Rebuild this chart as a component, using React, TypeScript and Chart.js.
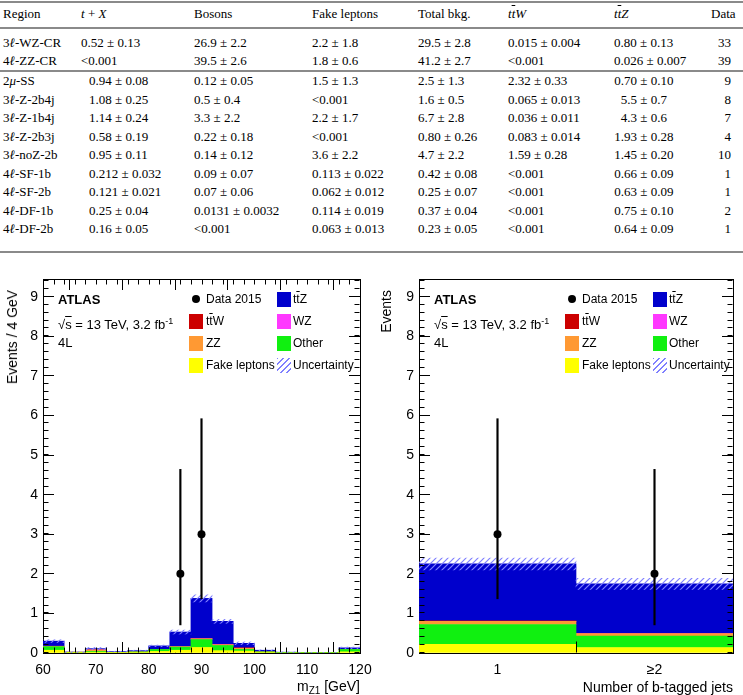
import React, { useEffect, useRef } from 'react';
import { Chart, registerables } from 'chart.js';

Chart.register(...registerables);

// ---------------- Table data ----------------
const tableHeaders = ['Region', 't + X', 'Bosons', 'Fake leptons', 'Total bkg.', 'ttW', 'ttZ', 'Data'];
const tableRegions = ['3ℓ-WZ-CR', '4ℓ-ZZ-CR', '2μ-SS', '3ℓ-Z-2b4j', '3ℓ-Z-1b4j', '3ℓ-Z-2b3j', '3ℓ-noZ-2b', '4ℓ-SF-1b', '4ℓ-SF-2b', '4ℓ-DF-1b', '4ℓ-DF-2b'];
const tableTX = ['0.52 ± 0.13', '<0.001', '0.94 ± 0.08', '1.08 ± 0.25', '1.14 ± 0.24', '0.58 ± 0.19', '0.95 ± 0.11', '0.212 ± 0.032', '0.121 ± 0.021', '0.25 ± 0.04', '0.16 ± 0.05'];
const tableBosons = ['26.9 ± 2.2', '39.5 ± 2.6', '0.12 ± 0.05', '0.5 ± 0.4', '3.3 ± 2.2', '0.22 ± 0.18', '0.14 ± 0.12', '0.09 ± 0.07', '0.07 ± 0.06', '0.0131 ± 0.0032', '<0.001'];
const tableFake = ['2.2 ± 1.8', '1.8 ± 0.6', '1.5 ± 1.3', '<0.001', '2.2 ± 1.7', '<0.001', '3.6 ± 2.2', '0.113 ± 0.022', '0.062 ± 0.012', '0.114 ± 0.019', '0.063 ± 0.013'];
const tableTotal = ['29.5 ± 2.8', '41.2 ± 2.7', '2.5 ± 1.3', '1.6 ± 0.5', '6.7 ± 2.8', '0.80 ± 0.26', '4.7 ± 2.2', '0.42 ± 0.08', '0.25 ± 0.07', '0.37 ± 0.04', '0.23 ± 0.05'];
const tableTtW = ['0.015 ± 0.004', '<0.001', '2.32 ± 0.33', '0.065 ± 0.013', '0.036 ± 0.011', '0.083 ± 0.014', '1.59 ± 0.28', '<0.001', '<0.001', '<0.001', '<0.001'];
const tableTtZ = ['0.80 ± 0.13', '0.026 ± 0.007', '0.70 ± 0.10', '5.5 ± 0.7', '4.3 ± 0.6', '1.93 ± 0.28', '1.45 ± 0.20', '0.66 ± 0.09', '0.63 ± 0.09', '0.75 ± 0.10', '0.64 ± 0.09'];
const tableData = ['33', '39', '9', '8', '7', '4', '10', '1', '1', '2', '1'];

// ---------------- m_Z1 histogram (4 GeV bins, 60-120) ----------------
const mzBinCenters = [62, 66, 70, 74, 78, 82, 86, 90, 94, 98, 102, 106, 110, 114, 118];
const mzFake = [0.07, 0.01, 0.02, 0.005, 0.01, 0.04, 0.07, 0.14, 0.06, 0.05, 0.01, 0.0, 0.0, 0.0, 0.03];
const mzOther = [0.09, 0.01, 0.02, 0.01, 0.02, 0.05, 0.08, 0.2, 0.13, 0.04, 0.02, 0.005, 0.003, 0.003, 0.06];
const mzZZ = [0.01, 0.0, 0.04, 0.0, 0.0, 0.0, 0.01, 0.02, 0.02, 0.03, 0.0, 0.0, 0.0, 0.0, 0.0];
const mzWZ = [0, 0, 0, 0, 0, 0, 0, 0, 0, 0, 0, 0, 0, 0, 0];
const mzTtW = [0, 0, 0, 0, 0, 0, 0, 0, 0, 0.01, 0, 0, 0, 0, 0];
const mzTtZ = [0.13, 0.0, 0.03, 0.02, 0.03, 0.09, 0.37, 1.02, 0.59, 0.115, 0.04, 0.015, 0.007, 0.007, 0.04];
const mzUnc = [0.035, 0.01, 0.03, 0.01, 0.01, 0.02, 0.05, 0.09, 0.05, 0.035, 0.01, 0.008, 0.005, 0.005, 0.02];
const mzDataX = [86, 90];
const mzData = [2, 3];
const mzDataLow = [0.71, 1.37];
const mzDataHigh = [4.64, 5.92];
const mzTicks = [60, 70, 80, 90, 100, 110, 120];
const mzMinorStep = 2;

// ---------------- b-tag multiplicity ----------------
const nbCenters = [1, 2];
const nbLabels = ['1', '≥2'];
const nbFake = [0.22, 0.14];
const nbOther = [0.5, 0.29];
const nbZZ = [0.08, 0.06];
const nbWZ = [0, 0];
const nbTtW = [0.01, 0.005];
const nbTtZ = [1.44, 1.25];
const nbUnc = [0.15, 0.14];
const nbDataX = [1, 2];
const nbData = [3, 2];
const nbDataLow = [1.37, 0.71];
const nbDataHigh = [5.92, 4.64];
const nbEdgeTicks = [1.5];

const yTicks = [0, 1, 2, 3, 4, 5, 6, 7, 8, 9];
const yMinorStep = 0.2;
const yMax = 9.45;

const COLORS = {
  ttZ: '#0000cc',
  ttW: '#cc0000',
  WZ: '#ff38ff',
  ZZ: '#ff9933',
  Other: '#10f010',
  Fake: '#ffff00',
  Unc: '#8080ff',
};

const SANS = '"Liberation Sans", Arial, Helvetica, sans-serif';
const SERIF = '"Liberation Serif", "Times New Roman", serif';

function makeHatch(ctx: CanvasRenderingContext2D) {
  const c = document.createElement('canvas');
  c.width = 6;
  c.height = 6;
  const g = c.getContext('2d')!;
  g.strokeStyle = COLORS.Unc;
  g.lineWidth = 1.2;
  g.beginPath();
  g.moveTo(0, 6); g.lineTo(6, 0);
  g.moveTo(-1, 1); g.lineTo(1, -1);
  g.moveTo(5, 7); g.lineTo(7, 5);
  g.stroke();
  return ctx.createPattern(c, 'repeat');
}

// Minor ticks (and bin-edge ticks at the bottom) placed with the chart's own scales,
// drawn on a transparent overlay canvas lying exactly over the chart canvas.
function drawMinorTicks(chart: any, overlay: HTMLCanvasElement, xMinorStep: number | null, bottomEdgeTicks: number[] | null) {
  const ctx = overlay.getContext('2d')!;
  ctx.clearRect(0, 0, overlay.width, overlay.height);
  const a = chart.chartArea;
  const xs = chart.scales.x;
  const ys = chart.scales.y;
  ctx.save();
  ctx.strokeStyle = '#000';
  ctx.lineWidth = 1;
  ctx.beginPath();
  const L = Math.round(a.left) + 0.5;
  const R = Math.round(a.right) - 0.5;
  const T = Math.round(a.top) + 0.5;
  const B = Math.round(a.bottom) - 0.5;
  if (xMinorStep) {
    for (let v = xs.min; v <= xs.max + 1e-9; v += xMinorStep) {
      const px = Math.round(xs.getPixelForValue(v)) + 0.5;
      ctx.moveTo(px, B);
      ctx.lineTo(px, B - 5);
      ctx.moveTo(px, T);
      ctx.lineTo(px, T + 5);
    }
  }
  if (bottomEdgeTicks) {
    bottomEdgeTicks.forEach((v) => {
      const px = Math.round(xs.getPixelForValue(v)) + 0.5;
      ctx.moveTo(px, B);
      ctx.lineTo(px, B - 11);
    });
  }
  for (let v = 0; v <= ys.max + 1e-9; v += yMinorStep) {
    const py = Math.round(ys.getPixelForValue(v)) - 0.5;
    ctx.moveTo(L, py);
    ctx.lineTo(L + 5, py);
    ctx.moveTo(R, py);
    ctx.lineTo(R - 5, py);
  }
  ctx.stroke();
  ctx.restore();
}

type HistCfg = {
  centers: number[];
  comps: number[][];
  unc: number[];
  dataX: number[];
  data: number[];
  dataLow: number[];
  dataHigh: number[];
  xMin: number;
  xMax: number;
  xTickValues: number[];
  xTickLabel: (v: number, i: number) => string;
  frameX: number[];
  frameMinor: number | null;
  labelTickMarks: boolean;
  yAxisWidth: number;
  padRight: number;
};

function buildChart(canvas: HTMLCanvasElement, cfg: HistCfg) {
  const ctx = canvas.getContext('2d')!;
  const pattern = makeHatch(ctx);
  const compColors = [COLORS.Fake, COLORS.Other, COLORS.ZZ, COLORS.WZ, COLORS.ttW, COLORS.ttZ];
  const totals = cfg.centers.map((_, i) => cfg.comps.reduce((s, c) => s + c[i], 0));
  const barBase = {
    type: 'bar',
    grouped: false,
    barPercentage: 1,
    categoryPercentage: 1,
    borderWidth: 0,
  };
  const datasets: any[] = cfg.comps.map((c, k) => ({
    ...barBase,
    stack: 'bkg',
    order: 10,
    backgroundColor: compColors[k],
    data: cfg.centers.map((x, i) => ({ x, y: c[i] })),
  }));
  datasets.push({
    ...barBase,
    stack: 'unc',
    order: 2,
    backgroundColor: pattern,
    data: cfg.centers.map((x, i) => ({ x, y: [totals[i] - cfg.unc[i], totals[i] + cfg.unc[i]] })),
  });
  datasets.push({
    ...barBase,
    stack: 'err',
    order: 1,
    barThickness: 1.5,
    backgroundColor: '#000',
    data: cfg.dataX.map((x, i) => ({ x, y: [cfg.dataLow[i], cfg.dataHigh[i]] })),
  });
  datasets.push({
    type: 'line',
    order: 0,
    showLine: false,
    pointRadius: 4,
    pointHoverRadius: 4,
    pointBackgroundColor: '#000',
    pointBorderColor: '#000',
    pointBorderWidth: 0,
    data: cfg.dataX.map((x, i) => ({ x, y: cfg.data[i] })),
  });

  const tickFont = { family: SANS, size: 14 };
  const frameBorder = { display: true, color: '#000', width: 1 };
  const inwardGrid = { display: true, drawOnChartArea: false, drawTicks: true, tickLength: -11, tickColor: '#000', tickWidth: 1 };
  const config: any = {
    type: 'bar',
    data: { datasets },
    options: {
      animation: false,
      responsive: false,
      layout: { padding: { left: 0, right: cfg.padRight, top: 17, bottom: 0 } },
      plugins: { legend: { display: false }, tooltip: { enabled: false } },
      scales: {
        x: {
          type: 'linear',
          position: 'bottom',
          min: cfg.xMin,
          max: cfg.xMax,
          offset: false,
          grid: { ...inwardGrid, tickColor: cfg.labelTickMarks ? '#000' : 'rgba(0,0,0,0)' },
          border: frameBorder,
          ticks: {
            font: tickFont,
            color: '#000',
            padding: 20,
            maxRotation: 0,
            autoSkip: false,
            callback: (v: any, i: number) => cfg.xTickLabel(v, i),
          },
          afterBuildTicks: (s: any) => {
            s.ticks = cfg.xTickValues.map((v) => ({ value: v }));
          },
          afterFit: (s: any) => {
            s.height = 42;
            s.paddingLeft = 0;
            s.paddingRight = 0;
          },
        },
        xTop: {
          type: 'linear',
          position: 'top',
          min: cfg.xMin,
          max: cfg.xMax,
          offset: false,
          grid: inwardGrid,
          border: frameBorder,
          ticks: { display: false },
          afterBuildTicks: (s: any) => {
            s.ticks = cfg.frameX.map((v) => ({ value: v }));
          },
          afterFit: (s: any) => {
            s.height = 0;
            s.paddingLeft = 0;
            s.paddingRight = 0;
          },
        },
        y: {
          type: 'linear',
          position: 'left',
          min: 0,
          max: yMax,
          stacked: true,
          grid: inwardGrid,
          border: frameBorder,
          ticks: { font: tickFont, color: '#000', padding: 16 },
          afterBuildTicks: (s: any) => {
            s.ticks = yTicks.map((v) => ({ value: v }));
          },
          afterFit: (s: any) => {
            s.width = cfg.yAxisWidth;
            s.paddingTop = 0;
            s.paddingBottom = 0;
          },
        },
        yRight: {
          type: 'linear',
          position: 'right',
          min: 0,
          max: yMax,
          grid: inwardGrid,
          border: frameBorder,
          ticks: { display: false },
          afterBuildTicks: (s: any) => {
            s.ticks = yTicks.map((v) => ({ value: v }));
          },
          afterFit: (s: any) => {
            s.width = 0;
            s.paddingTop = 0;
            s.paddingBottom = 0;
          },
        },
      },
    },
  };
  return new Chart(canvas, config);
}

// ---------------- small HTML helpers ----------------
function Txt(props: { x: number; y: number; size?: number; right?: boolean; style?: any; children: any }) {
  const size = props.size ?? 13;
  const lh = Math.round(size * 1.25);
  const pos: any = props.right ? { right: 743 - props.x } : { left: props.x };
  return (
    <div
      style={{
        position: 'absolute',
        top: props.y - lh / 2,
        fontSize: size,
        lineHeight: `${lh}px`,
        whiteSpace: 'nowrap',
        ...pos,
        ...props.style,
      }}
    >
      {props.children}
    </div>
  );
}

const Ov = (p: { children: any }) => <span style={{ textDecoration: 'overline' }}>{p.children}</span>;

function regionLabel(r: string) {
  const parts = r.split(/(ℓ|μ)/);
  return parts.map((p, i) => (p === 'ℓ' || p === 'μ' ? <i key={i}>{p}</i> : <span key={i}>{p}</span>));
}

function headerLabel(h: string) {
  if (h === 't + X') return (<span><i>t</i> + <i>X</i></span>);
  if (h === 'ttW') return (<i>t<Ov>t</Ov>W</i>);
  if (h === 'ttZ') return (<i>t<Ov>t</Ov>Z</i>);
  return h;
}

function PmCell(props: { text: string; anchor: number; y: number }) {
  const idx = props.text.indexOf(' ± ');
  if (idx < 0) return <Txt x={props.anchor - 23} y={props.y} style={{ fontFamily: SERIF }}>{props.text}</Txt>;
  const a = props.text.slice(0, idx);
  const b = props.text.slice(idx);
  return (
    <Txt x={props.anchor - 60} y={props.y} style={{ fontFamily: SERIF }}>
      <span style={{ display: 'inline-block', width: 60, textAlign: 'right' }}>{a}</span>
      <span style={{ whiteSpace: 'pre' }}>{b}</span>
    </Txt>
  );
}

function Table() {
  const headerY = 14;
  const rowY = (i: number) => (i < 2 ? 43 + i * 18 : 81 + (i - 2) * 18.5);
  const headerX = [3, 81, 194, 312, 418, 508, 614, 711];
  const colX = [194, 312, 418, 508];
  const rule = (y: number, h: number) => (
    <div style={{ position: 'absolute', left: 0, width: 743, top: y - h / 2, height: h, background: '#8a8a8a' }} />
  );
  const cells: any[] = [];
  tableRegions.forEach((r, i) => {
    const y = rowY(i);
    cells.push(<Txt key={`r${i}`} x={3} y={y} style={{ fontFamily: SERIF }}>{regionLabel(r)}</Txt>);
    cells.push(<Txt key={`t${i}`} x={i < 2 ? 81 : 89} y={y} style={{ fontFamily: SERIF }}>{tableTX[i]}</Txt>);
    [tableBosons, tableFake, tableTotal, tableTtW].forEach((col, k) => {
      cells.push(<Txt key={`c${k}-${i}`} x={colX[k]} y={y} style={{ fontFamily: SERIF }}>{col[i]}</Txt>);
    });
    if (i < 2) cells.push(<Txt key={`z${i}`} x={614} y={y} style={{ fontFamily: SERIF }}>{tableTtZ[i]}</Txt>);
    else cells.push(<PmCell key={`z${i}`} text={tableTtZ[i]} anchor={637} y={y} />);
    cells.push(<Txt key={`d${i}`} x={731} right y={y} style={{ fontFamily: SERIF }}>{tableData[i]}</Txt>);
  });
  return (
    <>
      {rule(2, 1.5)}
      {rule(28, 2)}
      {rule(71, 2)}
      {rule(252, 2)}
      {tableHeaders.map((h, i) => (
        <Txt key={`h${i}`} x={headerX[i]} y={headerY} style={{ fontFamily: SERIF }}>{headerLabel(h)}</Txt>
      ))}
      {cells}
    </>
  );
}

function Swatch(props: { x: number; cy: number; color?: string; hatch?: boolean }) {
  return (
    <div
      style={{
        position: 'absolute',
        left: props.x,
        top: props.cy - 7.5,
        width: 14,
        height: 15,
        background: props.hatch
          ? `repeating-linear-gradient(135deg, ${COLORS.Unc} 0px, ${COLORS.Unc} 1.2px, transparent 1.2px, transparent 4.2px)`
          : props.color,
      }}
    />
  );
}

function Legend(props: { ox: number }) {
  const ox = props.ox;
  const rows = [299, 321, 343, 365];
  const f = { fontFamily: SANS };
  return (
    <>
      <Txt x={58 + ox} y={300} size={13} style={{ ...f, fontWeight: 'bold' }}>ATLAS</Txt>
      <Txt x={58 + ox} y={321} size={13} style={f}>
        √<Ov>s</Ov> = 13 TeV, 3.2 fb<sup style={{ fontSize: 9, verticalAlign: 5 }}>-1</sup>
      </Txt>
      <Txt x={58 + ox} y={343} size={13} style={f}>4L</Txt>

      <div style={{ position: 'absolute', left: 196 + ox - 4, top: rows[0] - 4, width: 8, height: 8, borderRadius: 4, background: '#000' }} />
      <Txt x={206 + ox} y={rows[0]} size={12} style={f}>Data 2015</Txt>
      <Swatch x={189 + ox} cy={rows[1]} color={COLORS.ttW} />
      <Txt x={206 + ox} y={rows[1]} size={12} style={f}>t<Ov>t</Ov>W</Txt>
      <Swatch x={189 + ox} cy={rows[2]} color={COLORS.ZZ} />
      <Txt x={206 + ox} y={rows[2]} size={12} style={f}>ZZ</Txt>
      <Swatch x={189 + ox} cy={rows[3]} color={COLORS.Fake} />
      <Txt x={206 + ox} y={rows[3]} size={12} style={f}>Fake leptons</Txt>

      <Swatch x={277 + ox} cy={rows[0]} color={COLORS.ttZ} />
      <Txt x={293 + ox} y={rows[0]} size={12} style={f}>t<Ov>t</Ov>Z</Txt>
      <Swatch x={277 + ox} cy={rows[1]} color={COLORS.WZ} />
      <Txt x={293 + ox} y={rows[1]} size={12} style={f}>WZ</Txt>
      <Swatch x={277 + ox} cy={rows[2]} color={COLORS.Other} />
      <Txt x={293 + ox} y={rows[2]} size={12} style={f}>Other</Txt>
      <Swatch x={277 + ox} cy={rows[3]} hatch />
      <Txt x={293 + ox} y={rows[3]} size={12} style={f}>Uncertainty</Txt>
    </>
  );
}

function VTitle(props: { cx: number; top: number; children: any }) {
  return (
    <div
      style={{
        position: 'absolute',
        left: props.cx - 8,
        top: props.top,
        width: 16,
        lineHeight: '16px',
        fontSize: 14,
        fontFamily: SANS,
        writingMode: 'vertical-rl',
        transform: 'rotate(180deg)',
        whiteSpace: 'nowrap',
      }}
    >
      {props.children}
    </div>
  );
}

export default function App() {
  const leftRef = useRef<HTMLCanvasElement>(null);
  const rightRef = useRef<HTMLCanvasElement>(null);
  const leftOv = useRef<HTMLCanvasElement>(null);
  const rightOv = useRef<HTMLCanvasElement>(null);

  useEffect(() => {
    document.body.style.margin = '0';
    const leftCfg: HistCfg = {
      centers: mzBinCenters,
      comps: [mzFake, mzOther, mzZZ, mzWZ, mzTtW, mzTtZ],
      unc: mzUnc,
      dataX: mzDataX,
      data: mzData,
      dataLow: mzDataLow,
      dataHigh: mzDataHigh,
      xMin: 60,
      xMax: 120,
      xTickValues: mzTicks,
      xTickLabel: (v) => String(v),
      frameX: mzTicks,
      frameMinor: mzMinorStep,
      labelTickMarks: true,
      yAxisWidth: 43,
      padRight: 12,
    };
    const rightCfg: HistCfg = {
      centers: nbCenters,
      comps: [nbFake, nbOther, nbZZ, nbWZ, nbTtW, nbTtZ],
      unc: nbUnc,
      dataX: nbDataX,
      data: nbData,
      dataLow: nbDataLow,
      dataHigh: nbDataHigh,
      xMin: 0.5,
      xMax: 2.5,
      xTickValues: nbCenters,
      xTickLabel: (_v, i) => nbLabels[i],
      frameX: nbEdgeTicks,
      frameMinor: null,
      labelTickMarks: false,
      yAxisWidth: 47,
      padRight: 10,
    };
    const c1 = buildChart(leftRef.current!, leftCfg);
    const c2 = buildChart(rightRef.current!, rightCfg);
    try {
      drawMinorTicks(c1, leftOv.current!, leftCfg.frameMinor, null);
      drawMinorTicks(c2, rightOv.current!, rightCfg.frameMinor, rightCfg.frameX);
    } catch (e) {
      // ignore drawing issues of the decorative minor ticks
    }
    return () => {
      c1.destroy();
      c2.destroy();
    };
  }, []);

  const cv = (left: number, w: number): any => ({ position: 'absolute', left, top: 262, width: w, height: 433 });

  return (
    <div style={{ position: 'absolute', left: 0, top: 0, width: 743, height: 695, background: '#fff', overflow: 'hidden', color: '#000' }}>
      <Table />
      <canvas ref={leftRef} width={372} height={433} style={cv(0, 372)} />
      <canvas ref={rightRef} width={371} height={433} style={cv(372, 371)} />
      <canvas ref={leftOv} width={372} height={433} style={{ ...cv(0, 372), pointerEvents: 'none' }} />
      <canvas ref={rightOv} width={371} height={433} style={{ ...cv(372, 371), pointerEvents: 'none' }} />
      <Legend ox={0} />
      <Legend ox={376} />
      <VTitle cx={12} top={290}>Events / 4 GeV</VTitle>
      <VTitle cx={386} top={290}>Events</VTitle>
      <Txt x={360} right y={686} size={14} style={{ fontFamily: SANS }}>
        m<sub style={{ fontSize: 10, verticalAlign: -3 }}>Z1</sub> [GeV]
      </Txt>
      <Txt x={733} right y={687} size={14} style={{ fontFamily: SANS }}>Number of b-tagged jets</Txt>
    </div>
  );
}
